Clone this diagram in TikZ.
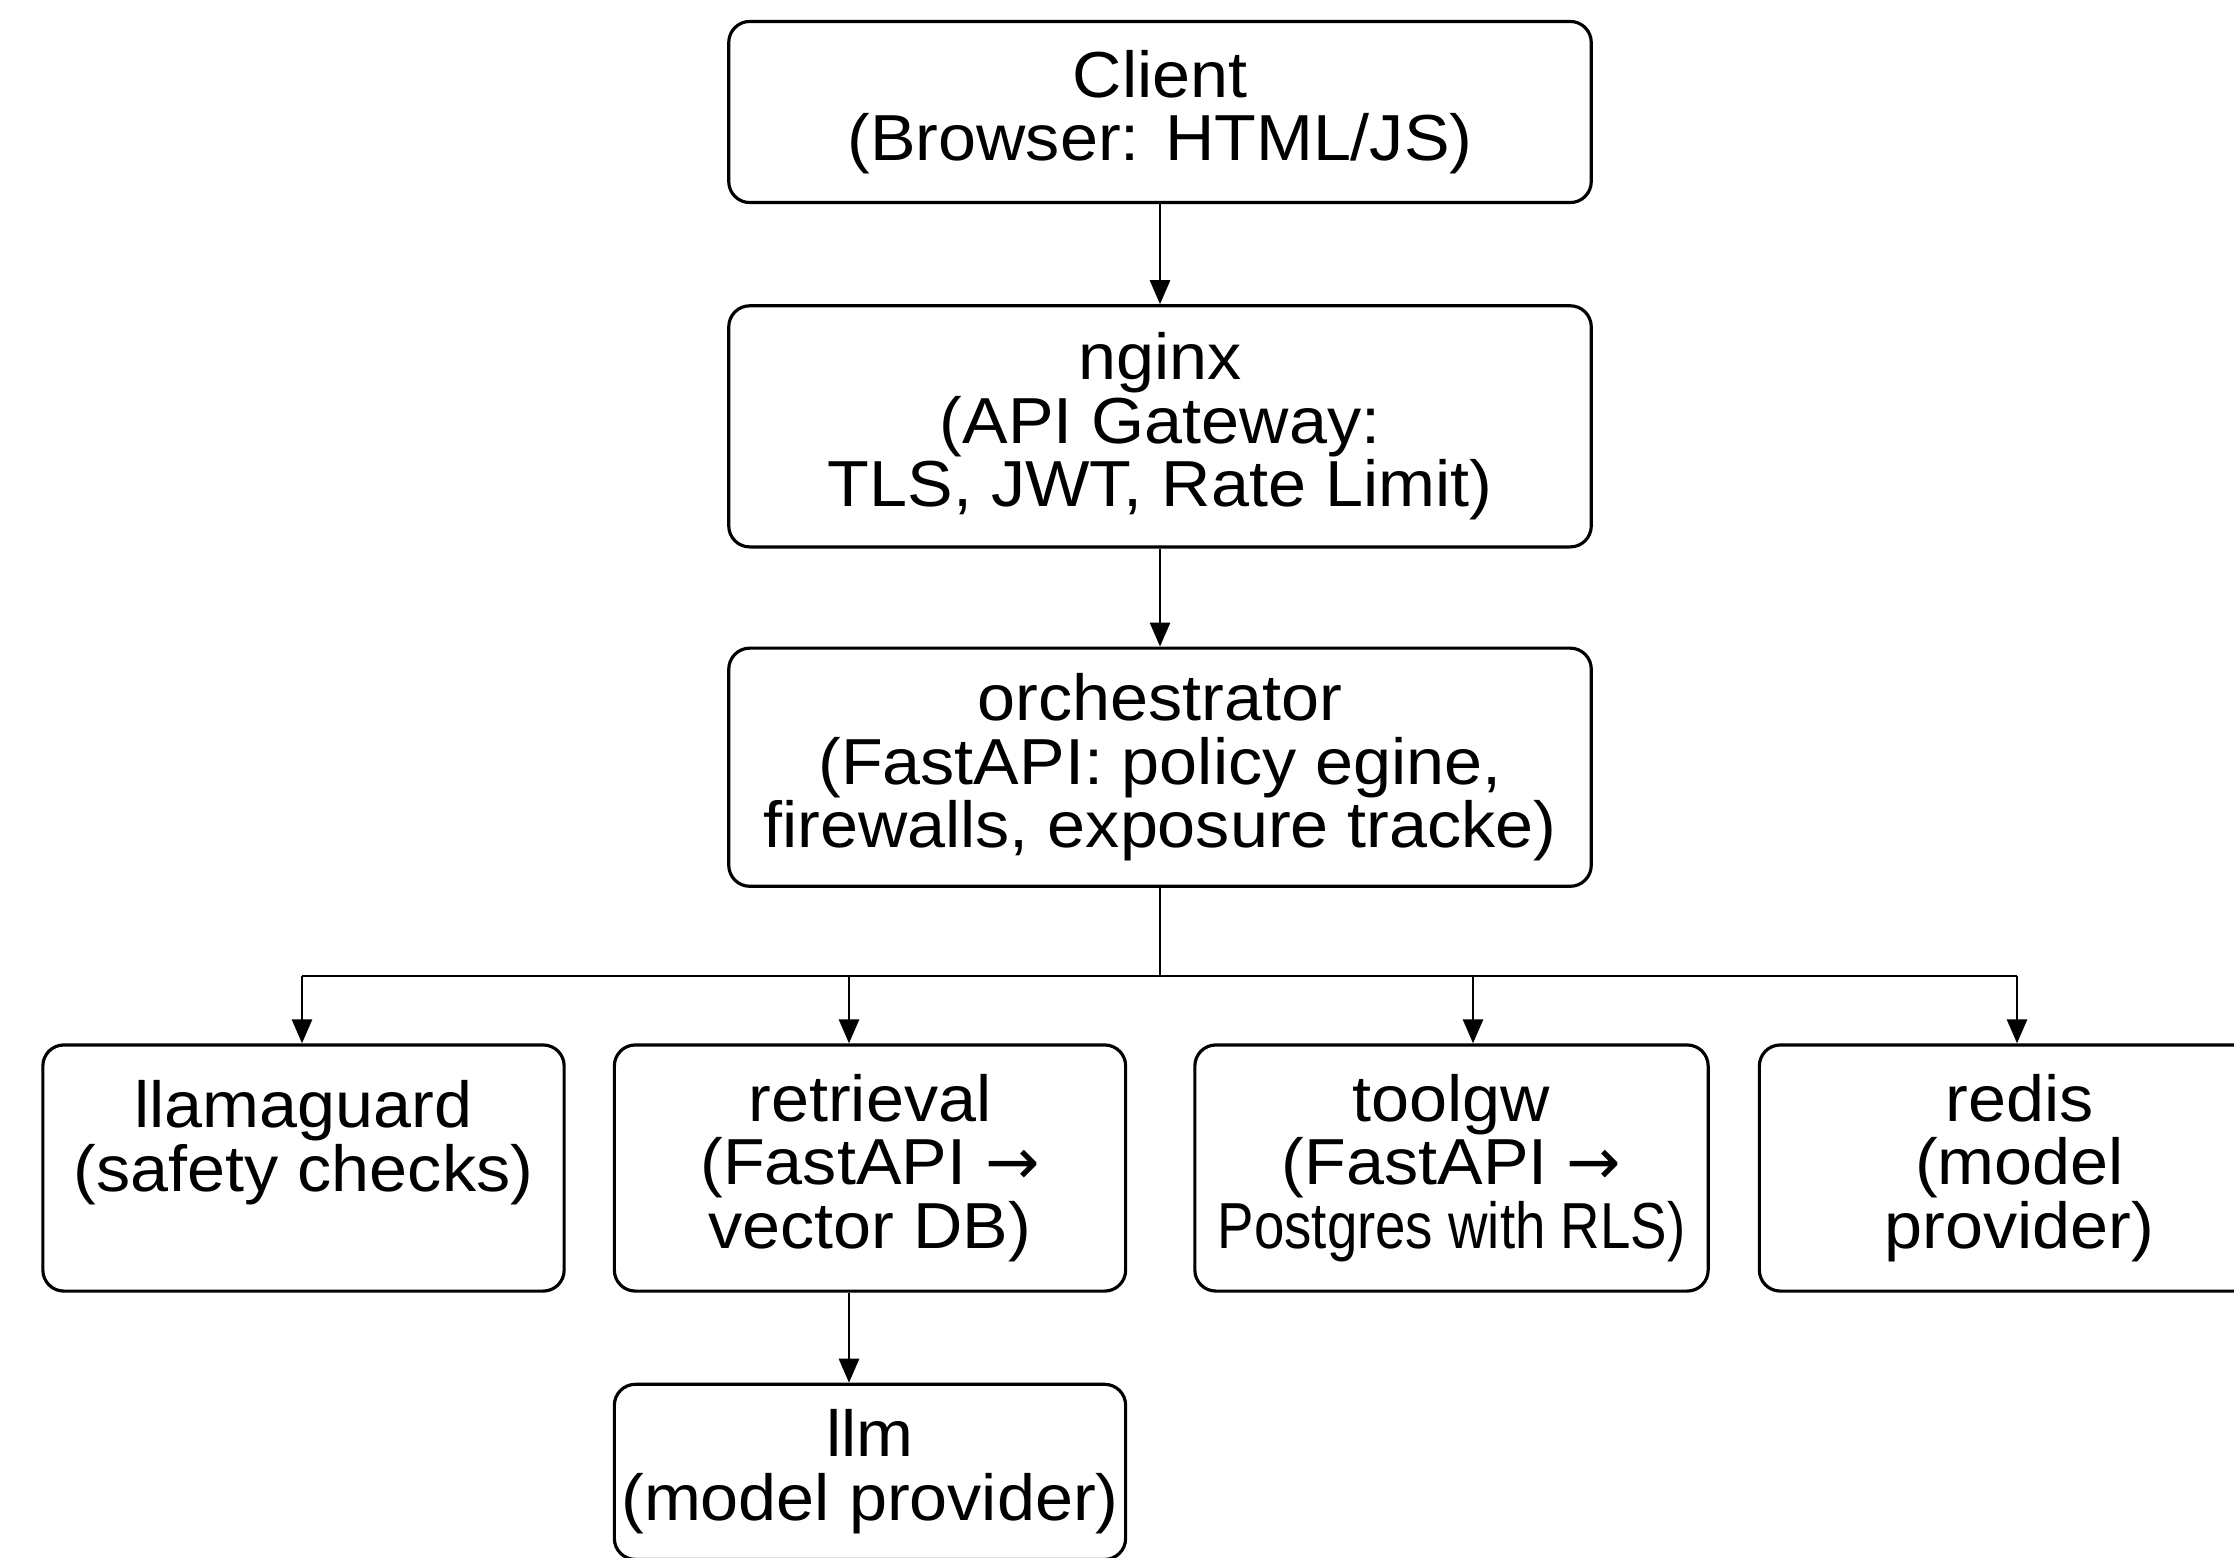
\documentclass[tikz,border=0pt]{standalone}
\usepackage{fontspec}
\setmainfont{Liberation Sans}[FakeStretch=1.05]
\newfontfamily\arrowfont{DejaVu Sans}
\usetikzlibrary{arrows.meta,positioning}

\tikzset{
  box/.style={draw, rounded corners=0.21cm, line width=0.9pt, align=center,
              inner sep=0pt, font=\fontsize{18.5}{18.1}\selectfont},
}

\begin{document}
\begin{tikzpicture}[->,>={Triangle[length=0.24cm,width=0.2cm]},line width=0.8pt,x=0.01cm,y=0.01cm]
            \clip (0,0) rectangle (2234,-1557);

            \node   [box,minimum width=8.62cm,minimum height=1.81cm]                        (client)     at (1160,-112)   {Client\\(Browser: HTML/JS)};
            \node   [box,minimum width=8.62cm,minimum height=2.41cm] [below=1.00cm of client]  (nginx)      {nginx\\(API Gateway:\\TLS, JWT, Rate Limit)};
            \node   [box,minimum width=8.62cm,minimum height=2.38cm] [below=0.98cm of nginx]   (orch)       {orchestrator\\(FastAPI: policy egine,\\firewalls, exposure tracke)};

            \node   [box,minimum width=5.21cm,minimum height=2.46cm]                        (llamaguard) at (303.5,-1168) {llamaguard\\(safety checks)\\\mbox{}};
            \node   [box,minimum width=5.11cm,minimum height=2.46cm] [right=0.47cm of llamaguard] (retrieval) {retrieval\\(FastAPI {\arrowfont →}\\vector DB)};
            \node   [box,minimum width=5.13cm,minimum height=2.46cm] [right=0.66cm of retrieval]  (toolgw)    {toolgw\\(FastAPI {\arrowfont →}\\\scalebox{0.80}[1]{Postgres with RLS)}};
            \node   [box,minimum width=5.20cm,minimum height=2.46cm] [right=0.48cm of toolgw]     (redis)     {redis\\(model\\provider)};
            \node   [box,minimum width=5.11cm,minimum height=1.75cm] [below=0.90cm of retrieval]  (llm)       {llm\\(model provider)};

            \coordinate (b1) at (302,-976);
            \coordinate (b2) at (849,-976);
            \coordinate (b3) at (1473,-976);
            \coordinate (b4) at (2017,-976);

            \draw   (client) -- (nginx);
            \draw   (nginx) -- (orch);
            \draw   [-] (orch.south) -- (orch.south |- b1);
            \draw   [-] (b1) -- (b4);

            \draw   (b1) -- (b1 |- llamaguard.north);
            \draw   (b2) -- (b2 |- retrieval.north);
            \draw   (b3) -- (b3 |- toolgw.north);
            \draw   (b4) -- (b4 |- redis.north);
            \draw   (b2 |- retrieval.south) -- (b2 |- llm.north);
        \end{tikzpicture}
\end{document}
